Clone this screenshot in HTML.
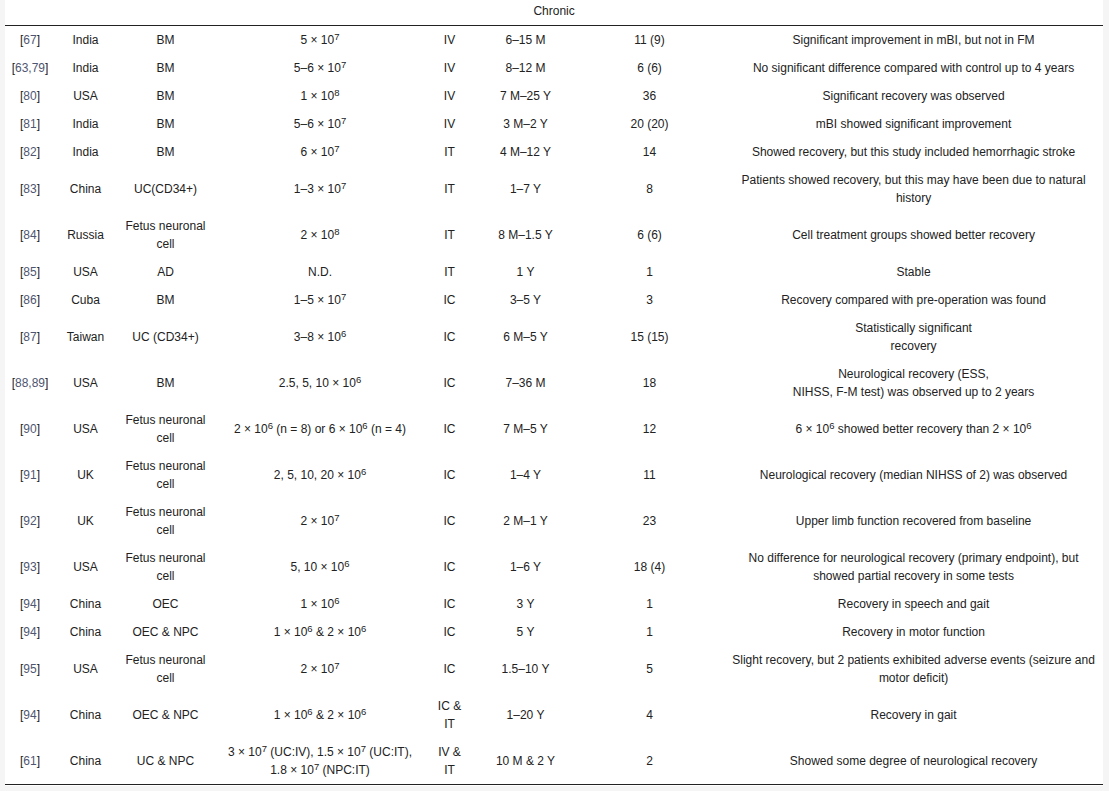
<!DOCTYPE html>
<html><head><meta charset="utf-8">
<style>
html,body{margin:0;padding:0;background:#f5f5f5;}
body{width:1109px;height:791px;overflow:hidden;position:relative;font-family:"Liberation Sans",sans-serif;}
.wrap{position:absolute;left:5px;top:0;width:1098px;height:786px;background:#fff;overflow:hidden;}
table{position:absolute;left:0;top:-3px;width:1098px;border-collapse:collapse;table-layout:fixed;font-size:12px;line-height:18px;color:#222;}
td,th{padding:5px 0;text-align:center;vertical-align:middle;font-weight:normal;}
th{border-bottom:1px solid #222;}
tr.last td{border-bottom:1px solid #222;}
td:nth-child(8){padding-left:2px;}
a{color:#4f5671;text-decoration:none;}
sup{font-size:9.5px;line-height:0;vertical-align:4px;}
</style></head><body>
<div class="wrap">
<table>
<colgroup><col style="width:50px"><col style="width:61px"><col style="width:99px"><col style="width:210px"><col style="width:49px"><col style="width:103px"><col style="width:145px"><col style="width:381px"></colgroup>
<tr><th colspan="8">Chronic</th></tr>
<tr><td>[<a>67</a>]</td><td>India</td><td>BM</td><td>5 × 10<sup>7</sup></td><td>IV</td><td>6–15 M</td><td>11 (9)</td><td>Significant improvement in mBI, but not in FM</td></tr>
<tr><td>[<a>63,79</a>]</td><td>India</td><td>BM</td><td>5–6 × 10<sup>7</sup></td><td>IV</td><td>8–12 M</td><td>6 (6)</td><td>No significant difference compared with control up to 4 years</td></tr>
<tr><td>[<a>80</a>]</td><td>USA</td><td>BM</td><td>1 × 10<sup>8</sup></td><td>IV</td><td>7 M–25 Y</td><td>36</td><td>Significant recovery was observed</td></tr>
<tr><td>[<a>81</a>]</td><td>India</td><td>BM</td><td>5–6 × 10<sup>7</sup></td><td>IV</td><td>3 M–2 Y</td><td>20 (20)</td><td>mBI showed significant improvement</td></tr>
<tr><td>[<a>82</a>]</td><td>India</td><td>BM</td><td>6 × 10<sup>7</sup></td><td>IT</td><td>4 M–12 Y</td><td>14</td><td>Showed recovery, but this study included hemorrhagic stroke</td></tr>
<tr><td>[<a>83</a>]</td><td>China</td><td>UC(CD34+)</td><td>1–3 × 10<sup>7</sup></td><td>IT</td><td>1–7 Y</td><td>8</td><td>Patients showed recovery, but this may have been due to natural<br>history</td></tr>
<tr><td>[<a>84</a>]</td><td>Russia</td><td>Fetus neuronal<br>cell</td><td>2 × 10<sup>8</sup></td><td>IT</td><td>8 M–1.5 Y</td><td>6 (6)</td><td>Cell treatment groups showed better recovery</td></tr>
<tr><td>[<a>85</a>]</td><td>USA</td><td>AD</td><td>N.D.</td><td>IT</td><td>1 Y</td><td>1</td><td>Stable</td></tr>
<tr><td>[<a>86</a>]</td><td>Cuba</td><td>BM</td><td>1–5 × 10<sup>7</sup></td><td>IC</td><td>3–5 Y</td><td>3</td><td>Recovery compared with pre-operation was found</td></tr>
<tr><td>[<a>87</a>]</td><td>Taiwan</td><td>UC (CD34+)</td><td>3–8 × 10<sup>6</sup></td><td>IC</td><td>6 M–5 Y</td><td>15 (15)</td><td>Statistically significant<br>recovery</td></tr>
<tr><td>[<a>88,89</a>]</td><td>USA</td><td>BM</td><td>2.5, 5, 10 × 10<sup>6</sup></td><td>IC</td><td>7–36 M</td><td>18</td><td>Neurological recovery (ESS,<br>NIHSS, F-M test) was observed up to 2 years</td></tr>
<tr><td>[<a>90</a>]</td><td>USA</td><td>Fetus neuronal<br>cell</td><td>2 × 10<sup>6</sup> (n = 8) or 6 × 10<sup>6</sup> (n = 4)</td><td>IC</td><td>7 M–5 Y</td><td>12</td><td>6 × 10<sup>6</sup> showed better recovery than 2 × 10<sup>6</sup></td></tr>
<tr><td>[<a>91</a>]</td><td>UK</td><td>Fetus neuronal<br>cell</td><td>2, 5, 10, 20 × 10<sup>6</sup></td><td>IC</td><td>1–4 Y</td><td>11</td><td>Neurological recovery (median NIHSS of 2) was observed</td></tr>
<tr><td>[<a>92</a>]</td><td>UK</td><td>Fetus neuronal<br>cell</td><td>2 × 10<sup>7</sup></td><td>IC</td><td>2 M–1 Y</td><td>23</td><td>Upper limb function recovered from baseline</td></tr>
<tr><td>[<a>93</a>]</td><td>USA</td><td>Fetus neuronal<br>cell</td><td>5, 10 × 10<sup>6</sup></td><td>IC</td><td>1–6 Y</td><td>18 (4)</td><td>No difference for neurological recovery (primary endpoint), but<br>showed partial recovery in some tests</td></tr>
<tr><td>[<a>94</a>]</td><td>China</td><td>OEC</td><td>1 × 10<sup>6</sup></td><td>IC</td><td>3 Y</td><td>1</td><td>Recovery in speech and gait</td></tr>
<tr><td>[<a>94</a>]</td><td>China</td><td>OEC &amp; NPC</td><td>1 × 10<sup>6</sup> &amp; 2 × 10<sup>6</sup></td><td>IC</td><td>5 Y</td><td>1</td><td>Recovery in motor function</td></tr>
<tr><td>[<a>95</a>]</td><td>USA</td><td>Fetus neuronal<br>cell</td><td>2 × 10<sup>7</sup></td><td>IC</td><td>1.5–10 Y</td><td>5</td><td>Slight recovery, but 2 patients exhibited adverse events (seizure and<br>motor deficit)</td></tr>
<tr><td>[<a>94</a>]</td><td>China</td><td>OEC &amp; NPC</td><td>1 × 10<sup>6</sup> &amp; 2 × 10<sup>6</sup></td><td>IC &amp;<br>IT</td><td>1–20 Y</td><td>4</td><td>Recovery in gait</td></tr>
<tr class="last"><td>[<a>61</a>]</td><td>China</td><td>UC &amp; NPC</td><td>3 × 10<sup>7</sup> (UC:IV), 1.5 × 10<sup>7</sup> (UC:IT),<br>1.8 × 10<sup>7</sup> (NPC:IT)</td><td>IV &amp;<br>IT</td><td>10 M &amp; 2 Y</td><td>2</td><td>Showed some degree of neurological recovery</td></tr>
</table>
</div>
</body></html>
